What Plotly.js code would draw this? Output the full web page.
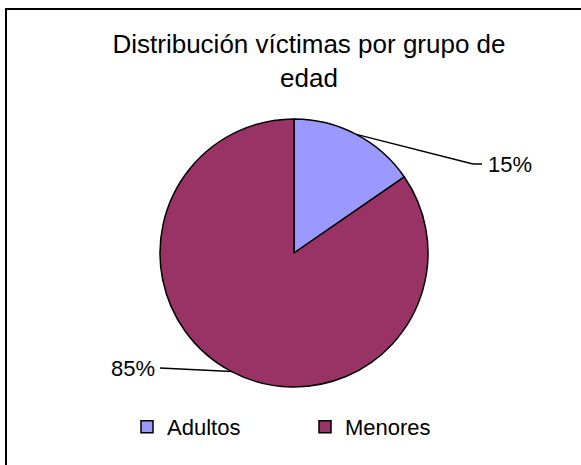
<!DOCTYPE html>
<html>
<head>
<meta charset="utf-8">
<script src="https://cdn.plot.ly/plotly-3.0.1.min.js"></script>
<style>
  html, body { margin: 0; padding: 0; background: #ffffff; }
  #chart { width: 581px; height: 465px; }
</style>
</head>
<body>
<div id="chart"></div>
<script>
// ---- data ----
var categories = ["Adultos", "Menores"];
var values = [15.4, 84.6];
var colors = ["#9999FF", "#993366"];
var titleText = "Distribución víctimas por grupo de<br>edad";

// ---- layout constants (pixels) ----
var W = 581, H = 465;
var pieCx = 294, pieCy = 253, pieR = 134;
// label anchor points (where leader line ends), per slice
var labelAnchors = [
  { bx: 473, by: 164, ex: 482, ey: 164, side: "left" },
  { bx: 160, by: 368, ex: 160, ey: 368, side: "right" }
];

function px(x) { return x / W; }
function py(y) { return 1 - y / H; }

var total = values.reduce(function (a, b) { return a + b; }, 0);
var shapes = [];
var annotations = [];
var cum = 0;
for (var i = 0; i < values.length; i++) {
  var frac = values[i] / total;
  var mid = (cum + frac / 2) * 2 * Math.PI; // clockwise from 12 o'clock
  cum += frac;
  var sx = pieCx + pieR * Math.sin(mid);
  var sy = pieCy - pieR * Math.cos(mid);
  var a = labelAnchors[i];
  shapes.push({ type: "line", xref: "paper", yref: "paper",
    x0: px(sx), y0: py(sy), x1: px(a.bx), y1: py(a.by),
    line: { color: "#000000", width: 1.5 } });
  if (a.ex !== a.bx || a.ey !== a.by) {
    shapes.push({ type: "line", xref: "paper", yref: "paper",
      x0: px(a.bx), y0: py(a.by), x1: px(a.ex), y1: py(a.ey),
      line: { color: "#000000", width: 1.5 } });
  }
  annotations.push({
    xref: "paper", yref: "paper",
    x: px(a.side === "left" ? a.ex + 4 : a.ex - 3),
    y: py(a.ey),
    xanchor: a.side, yanchor: "middle",
    text: Math.round(frac * 100) + "%",
    showarrow: false,
    font: { family: "Liberation Sans, Arial, sans-serif", size: 22, color: "#000000" }
  });
}

// chart border
shapes.push({ type: "rect", xref: "paper", yref: "paper",
  x0: px(6), y0: py(H + 10), x1: px(W + 10), y1: py(9),
  line: { color: "#000000", width: 2 }, fillcolor: "rgba(0,0,0,0)" });

var trace = {
  type: "pie",
  labels: categories,
  values: values,
  sort: false,
  direction: "clockwise",
  rotation: 0,
  textinfo: "none",
  hoverinfo: "label+percent",
  marker: { colors: colors, line: { color: "#000000", width: 1.5 } },
  domain: { x: [px(pieCx - pieR), px(pieCx + pieR)], y: [py(pieCy + pieR), py(pieCy - pieR)] }
};

var layout = {
  width: W, height: H,
  margin: { l: 0, r: 0, t: 0, b: 0 },
  paper_bgcolor: "#ffffff",
  font: { family: "Liberation Sans, Arial, sans-serif", color: "#000000" },
  title: {
    text: titleText,
    x: px(309), xanchor: "center",
    y: py(53), yanchor: "top",
    yref: "paper",
    font: { family: "Liberation Sans, Arial, sans-serif", size: 26, color: "#000000" }
  },
  showlegend: true,
  legend: {
    orientation: "h",
    x: px(127), xanchor: "left",
    y: py(427), yanchor: "middle",
    font: { family: "Liberation Sans, Arial, sans-serif", size: 22, color: "#000000" },
    entrywidth: 133, entrywidthmode: "pixels",
    bgcolor: "rgba(0,0,0,0)"
  },
  shapes: shapes,
  annotations: annotations
};

Plotly.newPlot("chart", [trace], layout, { displayModeBar: false, staticPlot: true });
</script>
</body>
</html>
